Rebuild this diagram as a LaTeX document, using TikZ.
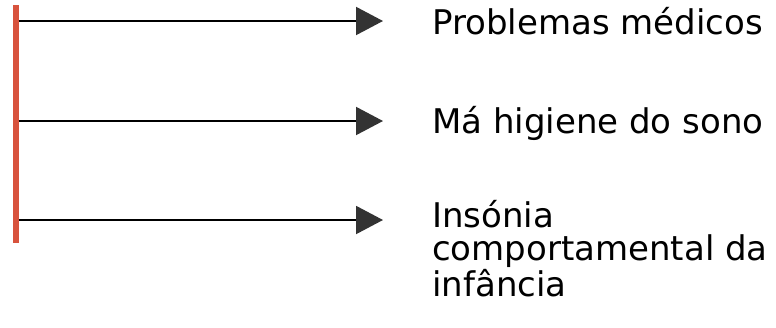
\documentclass[tikz,border=0pt]{standalone}
\usepackage{fontspec}
\setmainfont{DejaVu Sans}
\usepackage{xcolor}
\usetikzlibrary{positioning,arrows.meta}
\definecolor{barred}{HTML}{D8533D}
\definecolor{tipgray}{HTML}{333333}

\tikzset{
  cause/.style={-{Triangle[length=27pt, width=28pt, fill=tipgray, color=tipgray]}, line width=2pt, black},
  label/.style={anchor=base west, inner sep=0pt, align=left, font=\fontsize{34}{33.5}\selectfont}
}

\begin{document}
\begin{tikzpicture}[x=1pt, y=-1pt]
  \useasboundingbox (0,0) rectangle (776,327);

  % Red bar on the left
  \coordinate (bartop) at (16,5);
  \coordinate (barbot) at (16,243);
  \draw[barred, line width=5.5pt] (bartop) -- (barbot);

  % Labels (base of a multi-line node sits on its last line)
  \node[label] (medico) at (432,34) {Problemas médicos};
  \node[label] (higiene) at (432,133) {Má higiene do sono};
  \node[label] (insonia) at (432,296) {Insónia\\comportamental da\\infância};

  % Arrow ends
  \coordinate (s1) at (18.5,21);  \coordinate (e1) at (383,21);
  \coordinate (s2) at (18.5,121); \coordinate (e2) at (383,121);
  \coordinate (s3) at (18.5,220); \coordinate (e3) at (383,220);

  % Arrows
  \draw[cause] (s1) -- (e1);
  \draw[cause] (s2) -- (e2);
  \draw[cause] (s3) -- (e3);
\end{tikzpicture}
\end{document}
